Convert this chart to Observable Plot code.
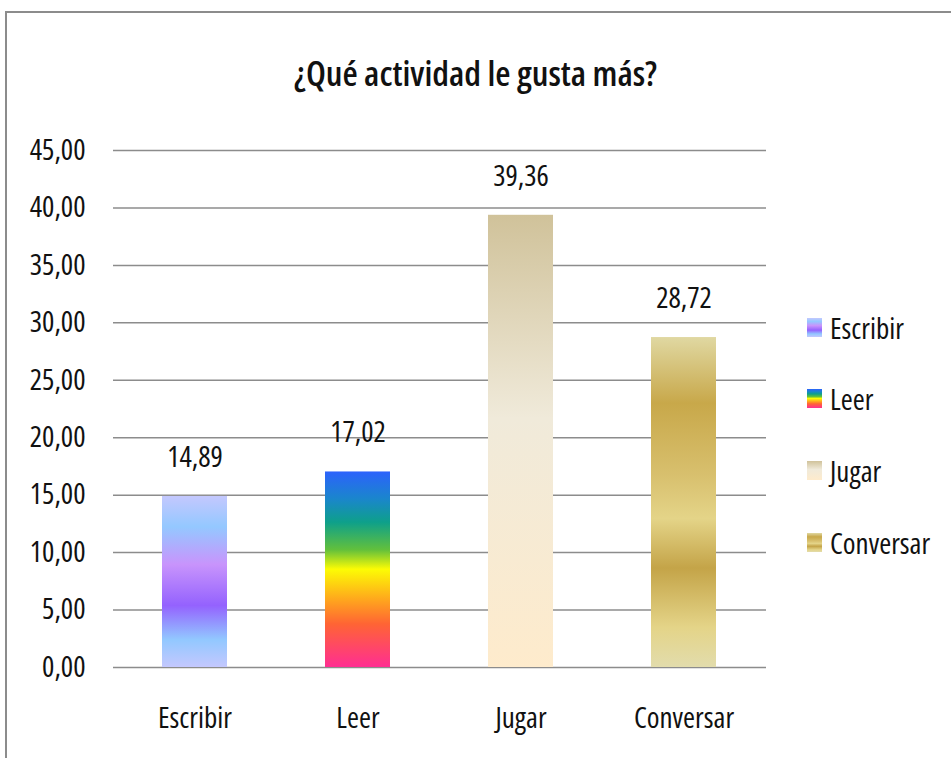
<!DOCTYPE html>
<html><head><meta charset="utf-8">
<script src="https://cdn.jsdelivr.net/npm/d3@7"></script>
<script src="https://cdn.jsdelivr.net/npm/@observablehq/plot@0.6"></script>
<style>
body{margin:0;background:#fff;font-family:"Open Sans",sans-serif;font-stretch:75%;}
#frame{position:absolute;left:5px;top:11px;width:1000px;height:800px;border:2px solid #8c8c8c;box-sizing:border-box;}
#title{position:absolute;left:0;top:49px;width:951px;text-align:center;font-weight:600;font-size:35px;color:#111;font-stretch:75%;}
#chart{position:absolute;left:0;top:0;}
#chart text{font-stretch:75%;}
#legend{position:absolute;left:807px;top:0;}
.item{position:absolute;left:0;height:30px;display:flex;align-items:center;white-space:nowrap;font-size:29px;color:#111;}
.sw{width:15px;height:19px;margin-right:8px;}
</style></head><body>
<div id="frame"></div>
<div id="title">¿Qué actividad le gusta más?</div>
<div id="chart"></div>
<div id="legend"></div>
<script>
const categories = ["Escribir","Leer","Jugar","Conversar"];
const values = [14.89, 17.02, 39.36, 28.72];
const yTicks = [0,5,10,15,20,25,30,35,40,45];

const gradients = [
  [[0,"#c4c8fe"],[0.18,"#94c8ff"],[0.4,"#c894fc"],[0.64,"#9462fe"],[0.84,"#92c8ff"],[1,"#c4c8fe"]],
  [[0,"#2c62fc"],[0.14,"#1a86cc"],[0.26,"#0ea08a"],[0.4,"#62c03c"],[0.5,"#fcfc04"],[0.66,"#ffa41e"],[0.78,"#ff6434"],[1,"#ff2e92"]],
  [[0,"#d0c29a"],[0.45,"#f0eada"],[1,"#feebcc"]],
  [[0,"#e0d8a2"],[0.2,"#c8a84a"],[0.42,"#d8c06e"],[0.55,"#e4d488"],[0.7,"#c4a448"],[0.88,"#e4d488"],[1,"#e2dcac"]]
];
const data = categories.map((c,i)=>({cat:c, value:values[i]}));
const fmt = v => d3.format(".2f")(v).replace(".", ",");

const plot = Plot.plot({
  width: 951, height: 758,
  marginTop: 150, marginBottom: 91, marginLeft: 113, marginRight: 185,
  style: {fontFamily: '"Open Sans",sans-serif', fontSize: "29px", color: "#111", background: "transparent"},
  x: {domain: categories, paddingInner: 0.6, paddingOuter: 0.3, label: null, tickSize: 0, tickPadding: 40},
  y: {domain: [0,45], ticks: yTicks, tickFormat: fmt, label: null, tickSize: 0, tickPadding: 28},
  color: {domain: categories, range: categories.map((c,i)=>`url(#grad${i})`)},
  marks: [
    Plot.gridY(yTicks, {stroke: "#8c8c8c", strokeOpacity: 1, strokeWidth: 1.5}),
    Plot.ruleX([0], {frameAnchor: "left", stroke: "#8c8c8c", strokeWidth: 1.5}),
    Plot.barY(data, {x: "cat", y: "value", fill: "cat"}),
    Plot.text(data, {x: "cat", y: "value", text: d => fmt(d.value), dy: -39, fontSize: 29, fill: "#111"})
  ]
});
const svg = d3.select(plot);
const defs = svg.insert("defs", ":first-child");
gradients.forEach((stops,i)=>{
  const g = defs.append("linearGradient").attr("id", `grad${i}`).attr("x1",0).attr("y1",0).attr("x2",0).attr("y2",1);
  stops.forEach(([o,c])=> g.append("stop").attr("offset", o).attr("stop-color", c));
});
document.getElementById("chart").appendChild(plot);

const legend = document.getElementById("legend");
const tops = [327, 398, 470, 542];
categories.forEach((c,i)=>{
  const it = document.createElement("div");
  it.className = "item";
  it.style.top = (tops[i]-15) + "px";
  const sw = document.createElement("div");
  sw.className = "sw";
  sw.style.background = "linear-gradient(to bottom," + gradients[i].map(([o,col])=>`${col} ${o*100}%`).join(",") + ")";
  const t = document.createElement("span");
  t.textContent = c;
  it.appendChild(sw); it.appendChild(t);
  legend.appendChild(it);
});
</script>
</body></html>
